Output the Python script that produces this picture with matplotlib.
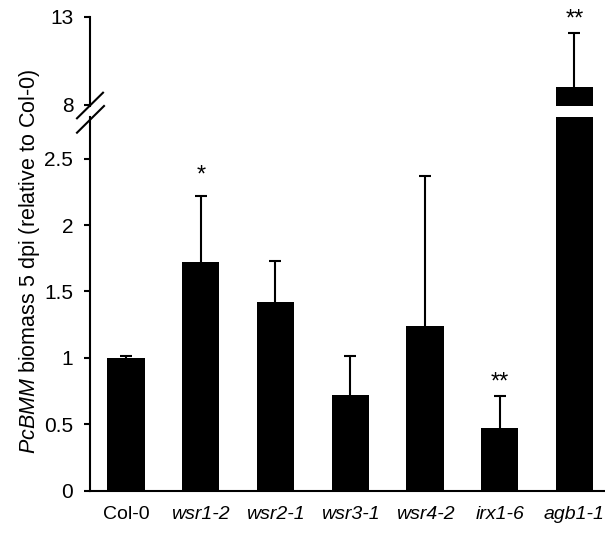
import numpy as np
import matplotlib
matplotlib.use('Agg')
import matplotlib.pyplot as plt
from matplotlib.lines import Line2D

plt.rcParams['font.family'] = ['Liberation Sans', 'DejaVu Sans']
plt.rcParams['mathtext.fontset'] = 'custom'
plt.rcParams['mathtext.rm'] = 'Liberation Sans'
plt.rcParams['mathtext.it'] = 'Liberation Sans:italic'

# data
genotypes = ['Col-0', 'wsr1-2', 'wsr2-1', 'wsr3-1', 'wsr4-2', 'irx1-6', 'agb1-1']
biomass = [1.0, 1.72, 1.42, 0.72, 1.24, 0.47, 9.0]
err_top = [1.01, 2.22, 1.73, 1.01, 2.37, 0.71, 12.08]
stars = ['', '*', '', '', '', '**', '**']

W, H = 605, 533
fig = plt.figure(figsize=(W / 100, H / 100), dpi=100)

def fx(px):
    return px / W

def fy(py):
    return 1 - py / H

# two axes for the broken y axis
ax_lo = fig.add_axes([fx(90), fy(490.5), 1 - fx(90), (490.5 - 116.7) / H])
ax_hi = fig.add_axes([fx(90), fy(106), 1 - fx(90), (106 - 16.7) / H])

x = np.arange(len(genotypes))
up = np.array(err_top) - np.array(biomass)
yerr = [np.zeros(len(x)), up]

for ax in (ax_lo, ax_hi):
    ax.bar(x, biomass, width=0.5, color='black', zorder=2)
    eb = ax.errorbar(x, biomass, yerr=yerr, fmt='none', ecolor='black',
                     elinewidth=1.5, capsize=4.5, capthick=1.5, zorder=3)
    eb[1][0].set_visible(False)  # no cap at the bar top
    ax.set_xlim(-0.482, 6.41)
    ax.spines['top'].set_visible(False)
    ax.spines['right'].set_visible(False)
    ax.spines['left'].set_linewidth(1.5)
    ax.spines['bottom'].set_linewidth(1.5)
    ax.tick_params(axis='y', length=4, width=1.5, pad=8, labelsize=15)

ax_lo.set_ylim(0, 2.817)
ax_lo.set_yticks([0, 0.5, 1, 1.5, 2, 2.5])
ax_lo.set_yticklabels(['0', '0.5', '1', '1.5', '2', '2.5'])
ax_lo.set_xticks(x)
ax_lo.set_xticklabels(genotypes, fontsize=14)
for lab in ax_lo.get_xticklabels()[1:]:
    lab.set_fontstyle('italic')
ax_lo.tick_params(axis='x', length=0, pad=11)

ax_hi.set_ylim(7.94, 13)
ax_hi.set_yticks([8, 13])
ax_hi.spines['bottom'].set_visible(False)
ax_hi.set_xticks([])

# significance marks
star_gap = {'*': 7, '**': 2}
for i, s in enumerate(stars):
    if not s:
        continue
    ax = ax_hi if err_top[i] > 3 else ax_lo
    ax.annotate(s, (x[i], err_top[i]), xytext=(0, star_gap[s]), textcoords='offset points',
                ha='center', va='bottom', fontsize=17, annotation_clip=False)

# break marks on the y axis
fig.add_artist(Line2D([fx(77), fx(103)], [fy(118.3), fy(92.7)],
                      transform=fig.transFigure, color='black', lw=1.5))
fig.add_artist(Line2D([fx(77), fx(104)], [fy(132.7), fy(106)],
                      transform=fig.transFigure, color='black', lw=1.5))

fig.text(fx(30), fy(261), r'$\it{PcBMM}$ biomass 5 dpi (relative to Col-0)',
         rotation=90, ha='center', va='center', fontsize=15.5)

fig.savefig('out.png', dpi=100)
